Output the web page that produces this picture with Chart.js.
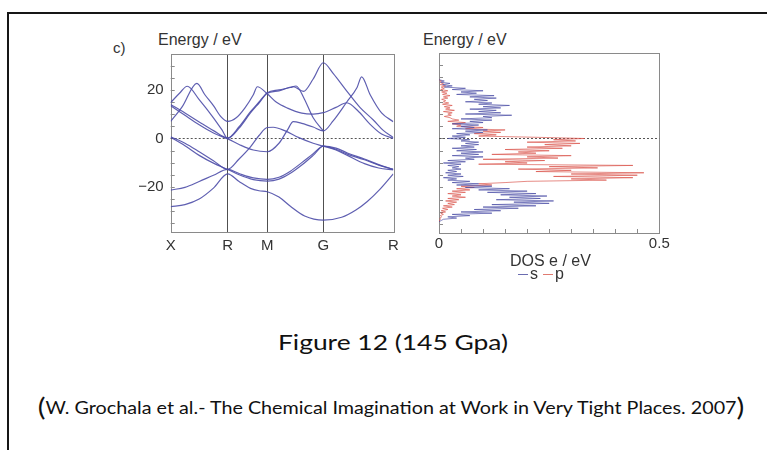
<!DOCTYPE html>
<html lang="en">
<head>
<meta charset="UTF-8" />
<title>Band structure and DOS (145 GPa)</title>
<script src="https://cdn.jsdelivr.net/npm/chart.js"></script>
<style>
  html, body { margin: 0; padding: 0; background: #fff; }
  body { width: 767px; height: 450px; position: relative; overflow: hidden;
         font-family: "Liberation Sans", Arial, sans-serif; color: #333; }
  .frame { position: absolute; left: 7px; top: 12px; right: -10px; bottom: -10px;
           border-left: 2px solid #161616; border-top: 2px solid #161616; }
  .wrap { position: absolute; }
  .lbl { position: absolute; white-space: nowrap; line-height: 1; }
  .ax { font-size: 16px; color: #333; }
  .cap { font-family: Lato, "Open Sans", sans-serif; color: #111; }
  .par { font-size: 25px; vertical-align: -2px; }
</style>
</head>
<body>
<div class="frame"></div>

<div class="lbl ax" style="left:113px; top:40px; font-size:15px;">c)</div>
<div class="lbl ax" style="left:158px; top:32px;">Energy / eV</div>
<div class="lbl ax" style="left:423px; top:32px;">Energy / eV</div>

<div class="wrap" style="left:100px; top:20px;"><canvas id="bands" width="310" height="240"></canvas></div>
<div class="wrap" style="left:410px; top:20px;"><canvas id="dos" width="270" height="240"></canvas></div>

<div class="lbl ax" style="left:510px; top:253px;">DOS e / eV</div>
<div class="lbl" style="left:518px; top:274px; width:10px; height:1px; background:#6a6cb0;"></div>
<div class="lbl ax" style="left:530px; top:266px;">s</div>
<div class="lbl" style="left:543px; top:274px; width:10px; height:1px; background:#e07a70;"></div>
<div class="lbl ax" style="left:555px; top:266px;">p</div>

<div id="caption" class="lbl cap" style="left:393px; top:331px; font-size:21px;">Figure 12 (145 Gpa)</div>
<div id="cite" class="lbl cap" style="left:391px; top:394px; font-size:17px;"><span class="par">(</span>W. Grochala et al.- The Chemical Imagination at Work in Very Tight Places. 2007<span class="par">)</span></div>

<script>
// k-path: high-symmetry points along the x axis
const kPos = [0, 1, 1.695, 2.678, 3.906];
const kLabels = ['X', 'R', 'M', 'G', 'R'];
// energy ticks (eV), labels only every 20
const eTicks = [-35, -30, -25, -20, -15, -10, -5, 0, 5, 10, 15, 20, 25, 30];
const dosTicks = [0, 0.05, 0.1, 0.15, 0.2, 0.25, 0.3, 0.35, 0.4, 0.45, 0.5];

// bands, [k, E]
const band1 = [[0,-28.2],[0.25,-27.3],[0.5,-25],[0.75,-20.5],[1,-14.6],[1.2,-17.8],[1.4,-20.6],[1.55,-21.6],[1.695,-22],[1.9,-24.2],[2.1,-28],[2.35,-32],[2.678,-33.7],[3.0,-32.5],[3.25,-29.5],[3.45,-26],[3.67,-21],[3.906,-14.6]];
const band2 = [[0,-21.3],[0.25,-20.2],[0.5,-17.8],[0.75,-15.2],[1,-12.8],[1.2,-14.5],[1.45,-16.3],[1.695,-16.9],[1.9,-16],[2.1,-13.5],[2.3,-10],[2.5,-6.3],[2.678,-3.2],[2.9,-4.5],[3.1,-6.5],[3.4,-8.8],[3.65,-11],[3.906,-12.8]];
const band3 = [[0,0.7],[0.25,-2],[0.5,-5.5],[0.75,-9.2],[1,-12.8],[1.2,-8.5],[1.4,-3.5],[1.55,1.2],[1.695,4.5],[1.8,4.6],[2.0,3.2],[2.25,0.3],[2.5,-2],[2.678,-3.2],[2.9,-4.8],[3.1,-7],[3.4,-10.4],[3.65,-12.2],[3.906,-13]];
const band4 = [[0,0.5],[0.25,-3],[0.5,-7],[0.75,-10.2],[1,-12.8],[1.2,-15],[1.45,-17],[1.695,-17.6],[1.9,-16.8],[2.1,-14.4],[2.3,-11],[2.5,-7],[2.678,-3.2],[2.9,-4],[3.1,-6],[3.4,-8.5],[3.65,-10.8],[3.906,-12.8]];
const band5 = [[0,13.5],[0.25,9.5],[0.5,5.6],[0.75,2.2],[1,-0.2],[1.2,-2.5],[1.45,-4.8],[1.695,-5.5],[1.9,-2],[2.05,3.5],[2.15,6.9],[2.3,6.2],[2.5,4.7],[2.678,3.1],[2.85,7.2],[3.09,15],[3.27,21],[3.35,25.4],[3.5,18],[3.7,10.5],[3.906,6.9]];
const band6 = [[0,14.8],[0.15,18.5],[0.29,21.5],[0.5,16],[0.75,8.5],[0.9,3.5],[1,0],[1.2,4.2],[1.4,10.5],[1.55,14.6],[1.695,18.6],[1.9,19.6],[2.15,21.3],[2.33,19.4],[2.5,24.5],[2.678,31.2],[2.85,26.8],[3.09,19.5],[3.32,12.8],[3.56,7.5],[3.73,3.3],[3.906,0.3]];
const band7 = [[0,7],[0.2,13],[0.46,22.7],[0.6,18],[0.75,13.5],[0.88,9],[1,7],[1.15,8.5],[1.3,12.5],[1.45,18],[1.52,21.3],[1.695,18.4],[1.85,15],[2.05,12.5],[2.3,10.4],[2.5,10],[2.678,10.6],[2.9,12.8],[3.09,14.7],[3.3,11],[3.5,5.8],[3.7,1.8],[3.906,0]];
const band8 = [[0,14],[0.25,10.5],[0.5,6.8],[0.75,3.2],[1,0.2],[1.2,4.8],[1.4,11],[1.55,15],[1.695,18.8],[1.9,20],[2.1,21],[2.2,21.6],[2.33,17],[2.5,8.5],[2.678,3.1]];

// DOS (e/eV) on a 0.5 eV energy grid, top to bottom
const dosE = [24,23.5,23,22.5,22,21.5,21,20.5,20,19.5,
  19,18.5,18,17.5,17,16.5,16,15.5,15,14.5,
  14,13.5,13,12.5,12,11.5,11,10.5,10,9.5,
  9,8.5,8,7.5,7,6.5,6,5.5,5,4.5,
  4,3.5,3,2.5,2,1.5,1,0.5,0,-0.5,
  -1,-1.5,-2,-2.5,-3,-3.5,-4,-4.5,-5,-5.5,
  -6,-6.5,-7,-7.5,-8,-8.5,-9,-9.5,-10,-10.5,
  -11,-11.5,-12,-12.5,-13,-13.5,-14,-14.5,-15,-15.5,
  -16,-16.5,-17,-17.5,-18,-18.5,-19,-19.5,-20,-20.5,
  -21,-21.5,-22,-22.5,-23,-23.5,-24,-24.5,-25,-25.5,
  -26,-26.5,-27,-27.5,-28,-28.5,-29,-29.5,-30,-30.5,
  -31,-31.5,-32,-32.5,-33,-33.5,-34];
const sDos = [0,0.012,0.004,0.025,0.008,0.03,0.012,0.06,0.03,0.1,
  0.05,0.085,0.04,0.125,0.07,0.13,0.08,0.11,0.06,0.12,
  0.09,0.16,0.1,0.14,0.07,0.13,0.09,0.14,0.06,0.165,
  0.1,0.12,0.05,0.12,0.07,0.1,0.03,0.09,0.05,0.08,
  0.03,0.11,0.06,0.1,0.04,0.07,0.03,0.06,0.02,0.07,
  0.05,0.09,0.06,0.09,0.05,0.08,0.03,0.085,0.04,0.1,
  0.05,0.09,0.03,0.1,0.06,0.08,0.02,0.06,0.01,0.05,
  0.02,0.045,0.03,0.05,0.02,0.04,0.015,0.05,0.02,0.055,
  0.01,0.04,0.02,0.07,0.03,0.09,0.04,0.12,0.06,0.16,
  0.09,0.2,0.11,0.22,0.14,0.245,0.16,0.23,0.13,0.26,
  0.17,0.25,0.12,0.22,0.1,0.18,0.08,0.14,0.05,0.12,
  0.03,0.07,0.02,0.04,0.01,0.005,0];
const pDos = [0,0.006,0.002,0.01,0.003,0.015,0.005,0.012,0.004,0.02,
  0.006,0.018,0.008,0.025,0.01,0.02,0.006,0.015,0.01,0.022,
  0.008,0.03,0.012,0.025,0.015,0.035,0.01,0.03,0.02,0.028,
  0.012,0.025,0.03,0.045,0.02,0.06,0.03,0.05,0.04,0.1,
  0.06,0.15,0.1,0.14,0.08,0.13,0.09,0.22,0.33,0.26,
  0.31,0.2,0.32,0.24,0.3,0.2,0.28,0.15,0.25,0.18,
  0.22,0.12,0.3,0.2,0.27,0.1,0.24,0.15,0.2,0.09,
  0.44,0.25,0.36,0.18,0.3,0.22,0.465,0.3,0.45,0.26,
  0.44,0.3,0.38,0.2,0.15,0.09,0.12,0.05,0.08,0.04,
  0.07,0.03,0.06,0.02,0.05,0.03,0.06,0.02,0.045,0.015,
  0.04,0.02,0.035,0.01,0.03,0.008,0.02,0.005,0.015,0.004,
  0.01,0.003,0.006,0.002,0.003,0.001,0];

const FONT = '"Liberation Sans", Arial, sans-serif';
const E_MIN = -38.6, E_MAX = 34.8;

// box, inner tick marks and the dotted Fermi line
const frame = {
  id: 'frame',
  beforeDatasetsDraw(chart, args, opts) {
    const { ctx, chartArea: a, scales } = chart;
    ctx.save();
    ctx.lineWidth = 1;
    ctx.strokeStyle = '#8a8a8a';
    ctx.beginPath();
    scales.y.ticks.forEach(t => {
      const y = Math.round(scales.y.getPixelForValue(t.value)) + 0.5;
      ctx.moveTo(a.left, y); ctx.lineTo(a.left + 4, y);
    });
    if (opts.xTicks) {
      scales.x.ticks.forEach(t => {
        const x = Math.round(scales.x.getPixelForValue(t.value)) + 0.5;
        ctx.moveTo(x, a.bottom); ctx.lineTo(x, a.bottom - 4);
      });
    }
    ctx.stroke();
    ctx.strokeRect(Math.round(a.left) + 0.5, Math.round(a.top) + 0.5,
                   Math.round(a.right - a.left), Math.round(a.bottom - a.top));
    const y0 = Math.round(scales.y.getPixelForValue(0)) + 0.5;
    ctx.strokeStyle = '#555';
    ctx.setLineDash([2, 2]);
    ctx.beginPath(); ctx.moveTo(a.left, y0); ctx.lineTo(a.right, y0); ctx.stroke();
    ctx.restore();
  }
};

const eLabel = v => v % 20 !== 0 ? '' : (v < 0 ? '\u2212' + (-v) : String(v));

new Chart(document.getElementById('bands'), {
  type: 'line',
  data: {
    datasets: [band1, band2, band3, band4, band5, band6, band7, band8].map(b => ({
      data: b.map(p => ({ x: p[0], y: p[1] })),
      borderColor: 'rgba(78,78,168,0.9)',
      borderWidth: 1.2,
      pointRadius: 0,
      fill: false,
      cubicInterpolationMode: 'monotone'
    }))
  },
  options: {
    responsive: false,
    animation: false,
    layout: { padding: { left: 30.7, top: 34, right: 16.7, bottom: 0 } },
    plugins: { legend: { display: false }, tooltip: { enabled: false }, frame: { xTicks: false } },
    scales: {
      x: {
        type: 'linear', min: 0, max: kPos[kPos.length - 1],
        afterBuildTicks: s => { s.ticks = kPos.map(v => ({ value: v })); },
        afterFit: s => { s.height = 28; },
        ticks: { callback: (v, i) => kLabels[i], color: '#333', font: { size: 15, family: FONT },
                 padding: 5, maxRotation: 0, autoSkip: false },
        grid: { drawTicks: false, lineWidth: 1,
                color: c => (c.index === 0 || c.index === kPos.length - 1) ? 'rgba(0,0,0,0)' : '#505050' },
        border: { display: false }
      },
      y: {
        min: E_MIN, max: E_MAX,
        afterBuildTicks: s => { s.ticks = eTicks.map(v => ({ value: v })); },
        afterFit: s => { s.width = 40; },
        ticks: { callback: v => eLabel(v), color: '#333', font: { size: 15, family: FONT },
                 padding: 7, autoSkip: false },
        grid: { display: false, drawTicks: false },
        border: { display: false }
      }
    }
  },
  plugins: [frame]
});

new Chart(document.getElementById('dos'), {
  type: 'line',
  data: {
    datasets: [
      { label: 's', data: dosE.map((e, i) => ({ x: sDos[i], y: e })), borderColor: 'rgba(72,74,164,0.75)',
        borderWidth: 0.9, pointRadius: 0, tension: 0, fill: false },
      { label: 'p', data: dosE.map((e, i) => ({ x: pDos[i], y: e })), borderColor: 'rgba(218,84,74,0.75)',
        borderWidth: 0.9, pointRadius: 0, tension: 0, fill: false }
    ]
  },
  options: {
    responsive: false,
    animation: false,
    layout: { padding: { left: 29, top: 33.3, right: 20.7, bottom: 0 } },
    plugins: { legend: { display: false }, tooltip: { enabled: false }, frame: { xTicks: true } },
    scales: {
      x: {
        type: 'linear', min: 0, max: 0.5,
        afterBuildTicks: s => { s.ticks = dosTicks.map(v => ({ value: v })); },
        afterFit: s => { s.height = 27; },
        ticks: { callback: (v, i) => (i === 0 || i === dosTicks.length - 1) ? String(v) : '',
                 color: '#333', font: { size: 15, family: FONT }, padding: 2, maxRotation: 0, autoSkip: false },
        grid: { display: false, drawTicks: false },
        border: { display: false }
      },
      y: {
        min: E_MIN, max: E_MAX,
        afterBuildTicks: s => { s.ticks = eTicks.map(v => ({ value: v })); },
        afterFit: s => { s.width = 0; },
        ticks: { display: false },
        grid: { display: false, drawTicks: false },
        border: { display: false }
      }
    }
  },
  plugins: [frame]
});

// squeeze the Calibri-like caption lines to the widths in the figure
function fitWidth(id, w) {
  const el = document.getElementById(id);
  el.style.transform = 'translateX(-50%) scaleX(' + (w / el.offsetWidth) + ')';
}
fitWidth('caption', 230);
fitWidth('cite', 707);
</script>
</body>
</html>
